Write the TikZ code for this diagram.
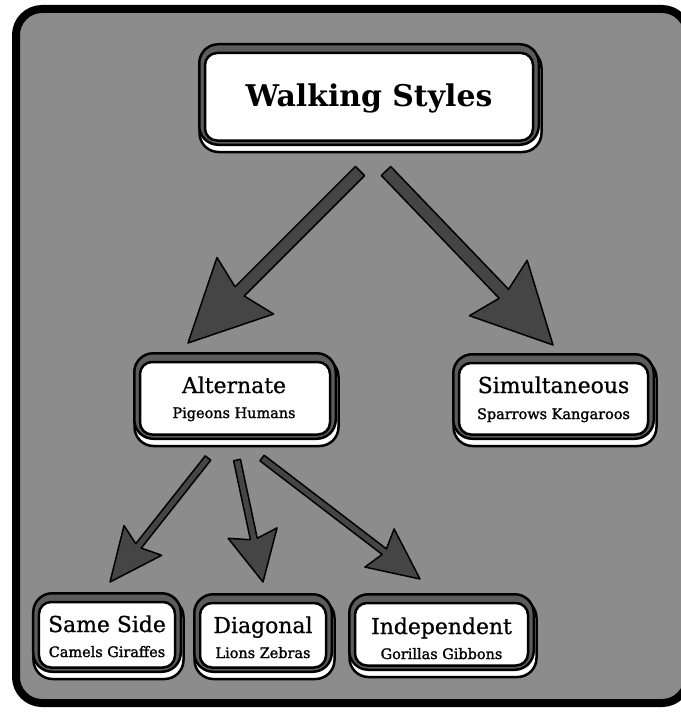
\documentclass[tikz,border=0pt]{standalone}
\usepackage{fontspec}
\setmainfont{DejaVu Serif}
\newfontfamily\labelfont[FakeBold=0.8]{DejaVu Serif}
\newfontfamily\subfont[FakeBold=1.5]{DejaVu Serif}
\usetikzlibrary{calc}
\definecolor{bgc}{gray}{0.55}
\definecolor{bandc}{gray}{0.36}
\definecolor{arrc}{gray}{0.27}
\pgfdeclarelayer{back}
\pgfdeclarelayer{shade}
\pgfsetlayers{back,shade,main}
\tikzset{
  wbox/.style={rectangle, rounded corners=19bp, draw=black, line width=2.5bp,
    fill=bandc, inner sep=0pt},
  inbox/.style={draw=black, line width=2.5bp, fill=white, rounded corners=12bp},
  shbox/.style={draw=black, line width=2.5bp, fill=white, rounded corners=19bp},
  maintxt/.style={anchor=base, inner sep=0pt, font=\labelfont\fontsize{22}{26}\selectfont},
  subtxt/.style={anchor=base, inner sep=0pt, font=\subfont\fontsize{14.5}{17}\selectfont},
  titletxt/.style={anchor=base, inner sep=0pt, font=\bfseries\fontsize{30}{36}\selectfont},
  fatarr/.style={fill=arrc, draw=black, line width=1.5bp, line join=round},
}
% #1 start, #2 tip, #3 half shaft, #4 half head, #5 head length, #6 notch distance
\newcommand\fatarrow[6]{%
  \path ($(#2)!#5!(#1)$) coordinate (fa-b) ($(#2)!#6!(#1)$) coordinate (fa-n);
  \filldraw[fatarr] ($(#1)!#3!90:(#2)$) -- ($(fa-n)!#3!-90:(#1)$)
    -- ($(fa-b)!#4!-90:(#1)$) -- (#2) -- ($(fa-b)!#4!90:(#1)$)
    -- ($(fa-n)!#3!90:(#1)$) -- ($(#1)!#3!-90:(#2)$) -- cycle;
}
% inner white panel of a box
\newcommand\innerpanel[1]{%
  \draw[inbox] ([shift={(7,10)}]#1.north west) rectangle ([shift={(-7,-5.5)}]#1.south east);
}
\begin{document}
\begin{tikzpicture}[x=1bp,y=-1bp]
\useasboundingbox (0,0) rectangle (681,712);
\begin{pgfonlayer}{back}
  \fill[white] (0,0) rectangle (681,712);
  \clip (0,0) rectangle (681,712);
  \draw[line width=8bp, rounded corners=26bp, fill=bgc] (16,9) rectangle (688,703);
\end{pgfonlayer}

% boxes
\node[wbox, minimum width=339.5bp, minimum height=100.5bp] (ws) at (369,94.5) {};
\node[wbox, minimum width=201.5bp, minimum height=85.5bp] (alt) at (235,396) {};
\node[wbox, minimum width=200.5bp, minimum height=84.5bp] (sim) at (553.5,396.5) {};
\node[wbox, minimum width=147.5bp, minimum height=78.5bp] (ss) at (107,632.5) {};
\node[wbox, minimum width=137.5bp, minimum height=77.5bp] (dg) at (263,633) {};
\node[wbox, minimum width=184.5bp, minimum height=75.5bp] (ind) at (441.5,632) {};

\innerpanel{ws}
\innerpanel{alt}
\innerpanel{sim}
\innerpanel{ss}
\innerpanel{dg}
\innerpanel{ind}

% stacked shadows
\begin{pgfonlayer}{shade}
  \foreach \n in {ws,alt,sim,ss,dg,ind}
    \draw[shbox] ([shift={(1.5,6)}]\n.south west) rectangle ([shift={(1.5,6)}]\n.north east);
\end{pgfonlayer}

% texts
\node[titletxt] (ws-t) at (369,107) {Walking Styles};
\node[maintxt] (alt-t) at (234,393) {Alternate};
\node[subtxt] (alt-s) at (234,418) {Pigeons Humans};
\node[maintxt] (sim-t) at (553.5,393) {Simultaneous};
\node[subtxt] (sim-s) at (553.5,419) {Sparrows Kangaroos};
\node[maintxt] (ss-t) at (107,632) {Same Side};
\node[subtxt] (ss-s) at (107,657) {Camels Giraffes};
\node[maintxt] (dg-t) at (263,633) {Diagonal};
\node[subtxt] (dg-s) at (263,658) {Lions Zebras};
\node[maintxt] (ind-t) at (441.5,634) {Independent};
\node[subtxt] (ind-s) at (441.5,659) {Gorillas Gibbons};

% arrows
\coordinate (a1s) at ($(ws.south)+(-9,25)$);
\coordinate (a1e) at ($(alt.north)+(-47,-9)$);
\coordinate (a2s) at ($(ws.south)+(17,25)$);
\coordinate (a2e) at ($(sim.north)+(-0.5,-8)$);
\coordinate (a3s) at ($(alt.south)+(-27,18)$);
\coordinate (a3e) at ($(ss.north)+(3,-10)$);
\coordinate (a4s) at ($(alt.south)+(2,20)$);
\coordinate (a4e) at ($(dg.north)+(0,-11)$);
\coordinate (a5s) at ($(alt.south)+(27,18)$);
\coordinate (a5e) at ($(ind.north)+(-21.5,-14)$);

\fatarrow{a1s}{a1e}{6.5bp}{40bp}{81bp}{73bp}
\fatarrow{a2s}{a2e}{6.5bp}{40bp}{79bp}{71bp}
\fatarrow{a3s}{a3e}{3.5bp}{24bp}{53bp}{46bp}
\fatarrow{a4s}{a4e}{3.5bp}{25bp}{50bp}{44bp}
\fatarrow{a5s}{a5e}{3.5bp}{24bp}{51bp}{45bp}
\end{tikzpicture}
\end{document}
